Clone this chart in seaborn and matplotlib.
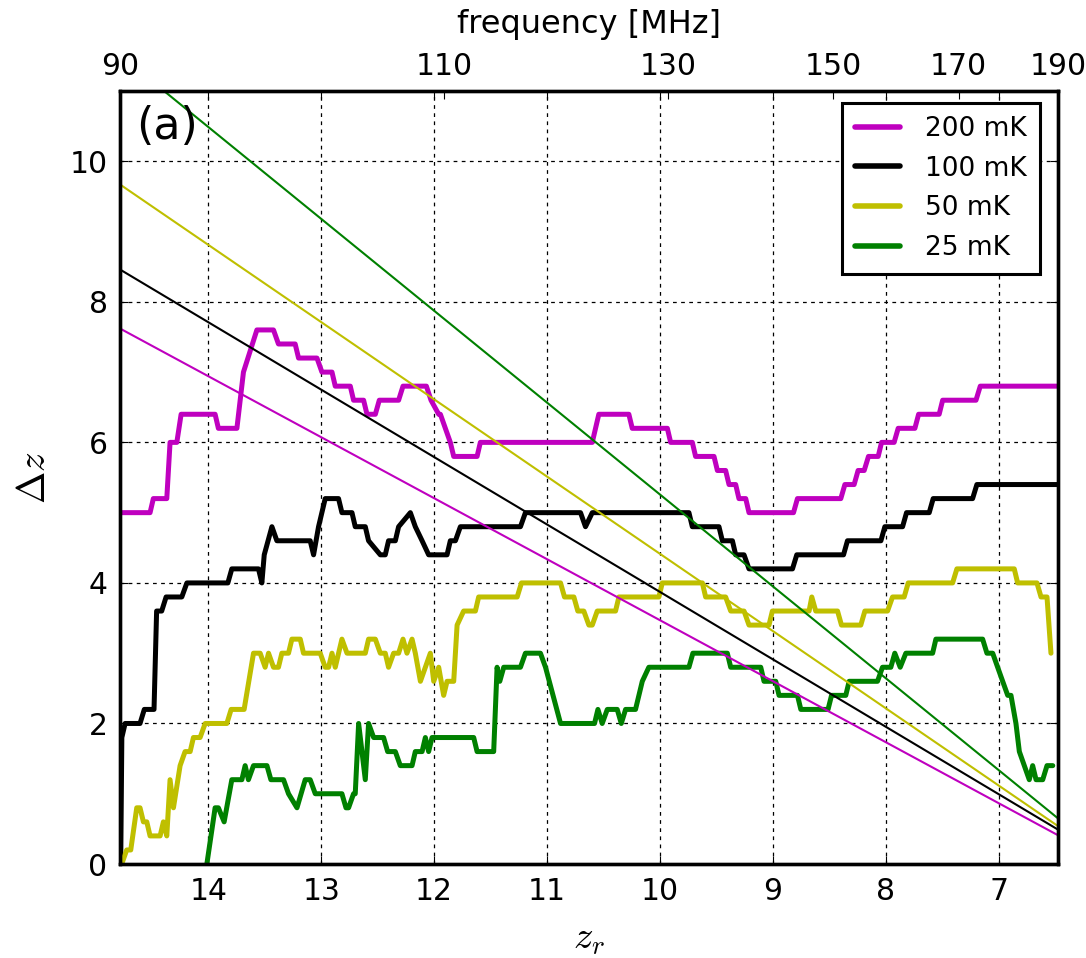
import numpy as np
import pandas as pd
import matplotlib
matplotlib.use("Agg")
import matplotlib.pyplot as plt
import seaborn as sns

# ---------------- data ----------------
labels = ["200 mK", "100 mK", "50 mK", "25 mK"]
colors = ["#bf00bf", "#000000", "#bfbf00", "#008000"]

freq_ticks = [90, 110, 130, 150, 170, 190]          # MHz (top axis)
z_ticks = [14, 13, 12, 11, 10, 9, 8, 7]
dz_ticks = [0, 2, 4, 6, 8, 10]

mag_z = [14.782, 14.516, 14.487, 14.368, 14.339, 14.279, 14.241, 13.940, 13.911, 13.747,
         13.689, 13.570, 13.423, 13.379, 13.231, 13.201, 13.038, 12.994, 12.905, 12.876,
         12.743, 12.714, 12.625, 12.595, 12.521, 12.486, 12.315, 12.276, 12.069, 12.028,
         11.960, 11.945, 11.857, 11.827, 11.620, 11.591, 10.600, 10.542, 10.276, 10.246,
         9.935, 9.906, 9.714, 9.685, 9.522, 9.492, 9.419, 9.389, 9.330, 9.301,
         9.241, 9.212, 8.818, 8.783, 8.399, 8.363, 8.281, 8.246, 8.192, 8.154,
         8.068, 8.038, 7.927, 7.891, 7.743, 7.710, 7.528, 7.497, 7.202, 7.164, 6.476]
mag_dz = [5.0, 5.0, 5.2, 5.2, 6.0, 6.0, 6.4, 6.4, 6.2, 6.2,
          7.0, 7.6, 7.6, 7.4, 7.4, 7.2, 7.2, 7.0, 7.0, 6.8,
          6.8, 6.6, 6.6, 6.4, 6.4, 6.6, 6.6, 6.8, 6.8, 6.6,
          6.4, 6.4, 6.0, 5.8, 5.8, 6.0, 6.0, 6.4, 6.4, 6.2,
          6.2, 6.0, 6.0, 5.8, 5.8, 5.6, 5.6, 5.4, 5.4, 5.2,
          5.2, 5.0, 5.0, 5.2, 5.2, 5.4, 5.4, 5.6, 5.6, 5.8,
          5.8, 6.0, 6.0, 6.2, 6.2, 6.4, 6.4, 6.6, 6.6, 6.8, 6.8]

blk_z = [14.776, 14.766, 14.737, 14.605, 14.567, 14.481, 14.458, 14.413, 14.374, 14.235,
         14.190, 13.827, 13.792, 13.556, 13.526, 13.505, 13.437, 13.393, 13.098, 13.068,
         13.024, 12.965, 12.847, 12.817, 12.728, 12.699, 12.610, 12.581, 12.477, 12.433,
         12.404, 12.344, 12.315, 12.211, 12.167, 12.107, 12.049, 11.886, 11.857, 11.812,
         11.768, 11.236, 11.192, 10.704, 10.660, 10.600, 9.744, 9.714, 9.478, 9.448,
         9.359, 9.330, 9.256, 9.212, 8.827, 8.789, 8.375, 8.340, 8.044, 8.009,
         7.852, 7.817, 7.616, 7.581, 7.232, 7.194, 6.476]
blk_dz = [0.0, 1.8, 2.0, 2.0, 2.2, 2.2, 3.6, 3.6, 3.8, 3.8,
          4.0, 4.0, 4.2, 4.2, 4.0, 4.4, 4.8, 4.6, 4.6, 4.4,
          4.8, 5.2, 5.2, 5.0, 5.0, 4.8, 4.8, 4.6, 4.4, 4.4,
          4.6, 4.6, 4.8, 5.0, 4.8, 4.6, 4.4, 4.4, 4.6, 4.6,
          4.8, 4.8, 5.0, 5.0, 4.8, 5.0, 5.0, 4.8, 4.8, 4.6,
          4.6, 4.4, 4.4, 4.2, 4.2, 4.4, 4.4, 4.6, 4.6, 4.8,
          4.8, 5.0, 5.0, 5.2, 5.2, 5.4, 5.4]

yel_z = [14.767, 14.723, 14.687, 14.634, 14.605, 14.575, 14.545, 14.516, 14.427, 14.398,
         14.368, 14.339, 14.309, 14.250, 14.206, 14.161, 14.132, 14.073, 14.028, 13.836,
         13.798, 13.683, 13.600, 13.541, 13.497, 13.467, 13.423, 13.379, 13.349, 13.290,
         13.260, 13.186, 13.157, 13.009, 12.965, 12.935, 12.905, 12.876, 12.817, 12.772,
         12.610, 12.581, 12.521, 12.477, 12.433, 12.404, 12.359, 12.315, 12.276, 12.241,
         12.196, 12.167, 12.122, 12.034, 12.004, 11.960, 11.916, 11.886, 11.827, 11.797,
         11.739, 11.635, 11.606, 11.265, 11.227, 10.881, 10.846, 10.763, 10.728, 10.675,
         10.630, 10.600, 10.556, 10.394, 10.364, 10.010, 9.980, 9.625, 9.596, 9.419,
         9.374, 9.256, 9.212, 9.035, 9.005, 8.680, 8.656, 8.621, 8.428, 8.393,
         8.222, 8.186, 7.985, 7.941, 7.838, 7.802, 7.409, 7.371, 6.863, 6.833,
         6.662, 6.626, 6.573, 6.538]
yel_dz = [0.0, 0.2, 0.2, 0.8, 0.8, 0.6, 0.6, 0.4, 0.4, 0.6,
          0.4, 1.2, 0.8, 1.4, 1.6, 1.6, 1.8, 1.8, 2.0, 2.0,
          2.2, 2.2, 3.0, 3.0, 2.8, 3.0, 2.8, 2.8, 3.0, 3.0,
          3.2, 3.2, 3.0, 3.0, 2.8, 2.8, 3.0, 2.8, 3.2, 3.0,
          3.0, 3.2, 3.2, 3.0, 3.0, 2.8, 3.0, 3.0, 3.2, 3.0,
          3.2, 3.0, 2.6, 3.0, 2.6, 2.8, 2.4, 2.6, 2.6, 3.4,
          3.6, 3.6, 3.8, 3.8, 4.0, 4.0, 3.8, 3.8, 3.6, 3.6,
          3.4, 3.4, 3.6, 3.6, 3.8, 3.8, 4.0, 4.0, 3.8, 3.8,
          3.6, 3.6, 3.4, 3.4, 3.6, 3.6, 3.8, 3.6, 3.6, 3.4,
          3.4, 3.6, 3.6, 3.8, 3.8, 4.0, 4.0, 4.2, 4.2, 4.0,
          4.0, 3.8, 3.8, 3.0]

grn_z = [14.013, 13.940, 13.911, 13.860, 13.792, 13.703, 13.674, 13.645, 13.600, 13.481,
         13.446, 13.334, 13.290, 13.215, 13.142, 13.098, 13.053, 12.817, 12.781, 12.758,
         12.714, 12.699, 12.669, 12.610, 12.581, 12.536, 12.448, 12.412, 12.344, 12.300,
         12.196, 12.167, 12.107, 12.078, 12.049, 12.019, 11.650, 11.620, 11.473, 11.443,
         11.419, 11.384, 11.236, 11.192, 11.059, 11.014, 10.881, 10.580, 10.550, 10.512,
         10.467, 10.379, 10.343, 10.305, 10.217, 10.157, 10.099, 9.744, 9.709, 9.404,
         9.374, 9.108, 9.079, 8.975, 8.946, 8.783, 8.753, 8.512, 8.481, 8.355,
         8.325, 8.074, 8.030, 7.956, 7.921, 7.873, 7.823, 7.586, 7.557, 7.143,
         7.105, 7.054, 7.010, 6.921, 6.892, 6.848, 6.818, 6.774, 6.730, 6.700,
         6.670, 6.611, 6.573, 6.522]
grn_dz = [0.0, 0.8, 0.8, 0.6, 1.2, 1.2, 1.4, 1.2, 1.4, 1.4,
          1.2, 1.2, 1.0, 0.8, 1.2, 1.2, 1.0, 1.0, 0.8, 0.8,
          1.0, 1.0, 2.0, 1.2, 2.0, 1.8, 1.8, 1.6, 1.6, 1.4,
          1.4, 1.6, 1.6, 1.8, 1.6, 1.8, 1.8, 1.6, 1.6, 2.8,
          2.6, 2.8, 2.8, 3.0, 3.0, 2.8, 2.0, 2.0, 2.2, 2.0,
          2.2, 2.2, 2.0, 2.2, 2.2, 2.6, 2.8, 2.8, 3.0, 3.0,
          2.8, 2.8, 2.6, 2.6, 2.4, 2.4, 2.2, 2.2, 2.4, 2.4,
          2.6, 2.6, 2.8, 2.8, 3.0, 2.8, 3.0, 3.0, 3.2, 3.2,
          3.0, 3.0, 2.8, 2.4, 2.4, 2.0, 1.6, 1.4, 1.2, 1.4,
          1.2, 1.2, 1.4, 1.4]

# straight reference lines: values at the two ends of the z range
line_z = [14.782, 6.476]
line_mag = [7.62, 0.41]
line_blk = [8.46, 0.49]
line_yel = [9.67, 0.54]
line_grn = [11.51, 0.65]

# ---------------- frames ----------------
step_series = [(mag_z, mag_dz), (blk_z, blk_dz), (yel_z, yel_dz), (grn_z, grn_dz)]
line_series = [line_mag, line_blk, line_yel, line_grn]

df_steps = pd.concat([pd.DataFrame({"z": zz, "dz": dd, "label": lab})
                      for (zz, dd), lab in zip(step_series, labels)], ignore_index=True)
df_lines = pd.concat([pd.DataFrame({"z": line_z, "dz": vv, "label": lab})
                      for vv, lab in zip(line_series, labels)], ignore_index=True)
palette = dict(zip(labels, colors))

# ---------------- style ----------------
sns.set_theme(style="white")
plt.rcParams.update({
    "font.family": ["DejaVu Sans"],
    "mathtext.fontset": "cm",
    "axes.edgecolor": "black",
    "axes.linewidth": 2.4,
    "axes.facecolor": "white",
    "figure.facecolor": "white",
    "xtick.color": "black",
    "ytick.color": "black",
    "text.color": "black",
    "axes.labelcolor": "black",
})

fig = plt.figure(figsize=(10.86, 9.58), dpi=100)
ax = fig.add_axes([0.1105, 0.0981, 0.8637, 0.8069])

sns.lineplot(data=df_steps, x="z", y="dz", hue="label", hue_order=labels,
             palette=palette, sort=False, estimator=None, linewidth=3.6, ax=ax)
sns.lineplot(data=df_lines, x="z", y="dz", hue="label", hue_order=labels,
             palette=palette, sort=False, estimator=None, linewidth=1.5,
             legend=False, ax=ax)

zlo = 1420.4 / freq_ticks[-1] - 1
zhi = 1420.4 / freq_ticks[0] - 1
ax.set_xlim(zhi, zlo)
ax.set_ylim(0, 11)
ax.set_xticks(z_ticks)
ax.set_xticklabels([str(t) for t in z_ticks])
ax.set_yticks(dz_ticks)
ax.set_yticklabels([str(t) for t in dz_ticks])
ax.grid(True, color="black", linestyle=(0, (3, 3.5)), linewidth=0.9)
ax.set_xlabel(r"$z_r$", fontsize=28, labelpad=10)
ax.set_ylabel(r"$\Delta z$", fontsize=28, labelpad=12)

ax2 = ax.twiny()
ax2.set_xlim(ax.get_xlim())
ax2.set_xticks([1420.4 / f - 1 for f in freq_ticks])
ax2.set_xticklabels([str(f) for f in freq_ticks])
ax2.set_xlabel("frequency [MHz]", fontsize=23, labelpad=14)
ax2.grid(False)
ax2.tick_params(axis="x", direction="in", length=6, width=0.8, labelsize=21.5,
                pad=7, top=True, bottom=False, labeltop=True, labelbottom=False)

ax.tick_params(axis="both", which="major", direction="in", length=6, width=0.8,
               labelsize=21.5, pad=9, top=True, right=True, bottom=True, left=True,
               labeltop=False, labelright=False)

ax.text(0.017, 0.982, "(a)", transform=ax.transAxes, fontsize=32,
        ha="left", va="top")

sns.move_legend(ax, "upper right", bbox_to_anchor=(0.9808, 0.9849), title=None,
                frameon=True, fontsize=19, handlelength=1.7, handletextpad=0.95,
                borderpad=0.5, labelspacing=0.52, borderaxespad=0, fancybox=False,
                edgecolor="black", framealpha=1)
leg = ax.get_legend()
leg.get_frame().set_linewidth(2.2)
for ln in leg.get_lines():
    ln.set_linewidth(4)

fig.savefig("out.png", dpi=100, facecolor="white")
